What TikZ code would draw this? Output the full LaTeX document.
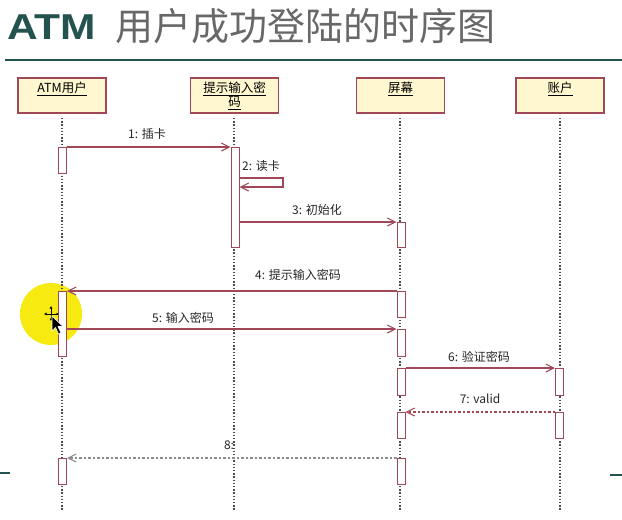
\documentclass[tikz,border=0pt]{standalone}
\usepackage{fontspec}
\usepackage{graphicx}
\setmainfont{Liberation Sans}
\newfontfamily\cjk{Noto Sans CJK SC}
\usetikzlibrary{arrows.meta}
\definecolor{msg}{HTML}{A04858}
\definecolor{boxfill}{HTML}{FFF7CF}
\definecolor{titleteal}{HTML}{24524E}
\definecolor{titlegray}{HTML}{686868}
\definecolor{hilite}{HTML}{F7EA10}
\begin{document}
\begin{tikzpicture}[x=1pt,y=-1pt,
  lbox/.style={draw=msg, fill=boxfill, line width=1.2pt, minimum width=88pt, minimum height=35pt, inner sep=0pt},
  lbl/.style={font=\cjk\fontsize{12.5}{14}\selectfont, align=center, inner sep=0pt},
  life/.style={draw=black!70, line width=1.5pt, dash pattern=on 1.4pt off 1.8pt},
  act/.style={draw=msg, fill=white, line width=1pt, minimum width=8pt, inner sep=0pt, anchor=north},
  call/.style={draw=msg, line width=1.1pt, -{Straight Barb[length=8pt,width=8pt]}},
  ret/.style={call, dash pattern=on 2.5pt off 2pt},
  mlbl/.style={font=\cjk\fontsize{12}{14}\selectfont, inner sep=0pt, text=black!85}
]
\useasboundingbox (0,0) rectangle (622,520);
\fill[white] (0,0) rectangle (622,520);

% title
\node[anchor=base west, inner sep=0pt, text=titleteal, font=\bfseries\fontsize{36}{40}\selectfont] (t1) at (7,39) {\scalebox{1.18}[1]{ATM}};
\node[anchor=base west, inner sep=0pt, text=titlegray, font=\cjk\fontsize{38}{40}\selectfont] (t2) at (115,40) {用户成功登陆的时序图};
\coordinate (hl1) at (5,60);
\coordinate (hl2) at (622,60);
\draw[titleteal, line width=2pt] (hl1) -- (hl2);
\coordinate (el1) at (0,473); \coordinate (el2) at (10,473);
\draw[titleteal, line width=2pt] (el1) -- (el2);
\coordinate (er1) at (610,475); \coordinate (er2) at (622,475);
\draw[titleteal, line width=2pt] (er1) -- (er2);

% cursor highlight
\fill[hilite] (51,314) circle (31);

% lifeline heads
\node[lbox] (u) at (62,95.5) {};
\node[lbox] (p) at (234.5,95.5) {};
\node[lbox] (s) at (400.5,95.5) {};
\node[lbox] (a) at (560,95.5) {};
\node[lbl] (ul) at (62,89) {\underline{ATM用户}};
\node[lbl] (pl) at (234.5,96) {\underline{提示输入密}\\\underline{码}};
\node[lbl] (sl) at (400.5,89) {\underline{屏幕}};
\node[lbl] (al) at (560,89) {\underline{账户}};

% lifelines
\coordinate (ue) at (62,510);
\coordinate (pe) at (234,510);
\coordinate (se) at (400,510);
\coordinate (ae) at (560,510);
\draw[life] (u.south |- 0,118) -- (ue);
\draw[life] (234,118) -- (pe);
\draw[life] (400,118) -- (se);
\draw[life] (560,118) -- (ae);

% activations
\node[act, minimum height=26pt] (u1) at (62.5,147) {};
\node[act, minimum height=100pt] (p1) at (235,147) {};
\node[act, minimum height=25pt] (s1) at (401,222) {};
\node[act, minimum height=65pt] (u2) at (62.5,291) {};
\node[act, minimum height=26pt] (s2) at (401,291) {};
\node[act, minimum height=27pt] (s3) at (401,329) {};
\node[act, minimum height=27pt] (s4) at (401,368) {};
\node[act, minimum height=27pt] (a1) at (559.5,368) {};
\node[act, minimum height=26pt] (s5) at (401,412) {};
\node[act, minimum height=26pt] (a2) at (559.5,412) {};
\node[act, minimum height=26pt] (u3) at (62.5,458) {};
\node[act, minimum height=26pt] (s6) at (401,458) {};

% messages
\draw[call] (u1.north east) -- (p1.north west);
\node[mlbl] (m1) at (147,134) {1: 插卡};

\coordinate (r2a) at (283,178);
\coordinate (r2b) at (283,187);
\draw[call] (p1.east |- r2a) -- (r2a) -- (r2b) -- (p1.east |- r2b);
\node[mlbl] (m2) at (261,166) {2: 读卡};

\draw[call] (p1.east |- s1.north) -- (s1.north west);
\node[mlbl] (m3) at (317,210) {3: 初始化};

\draw[call] (s2.north west) -- (u2.north east);
\node[mlbl] (m4) at (298,275) {4: 提示输入密码};

\draw[call] (u2.east |- s3.north) -- (s3.north west);
\node[mlbl] (m5) at (183,318) {5: 输入密码};

\draw[call] (s4.north east) -- (a1.north west);
\node[mlbl] (m6) at (479,357) {6: 验证密码};

\draw[ret] (a2.north west) -- (s5.north east);
\node[mlbl] (m7) at (480,399) {7: valid};

\draw[ret, draw=black!45] (s6.north west) -- (u3.north east);
\node[mlbl] (m8) at (229,445) {8:};

% cursor
\draw[black, line width=0.8pt, {Latex[length=2.5pt,width=3pt]}-{Latex[length=2.5pt,width=3pt]}] (44,314) -- (59,314);
\draw[black, line width=0.8pt, {Latex[length=2.5pt,width=3pt]}-{Latex[length=2.5pt,width=3pt]}] (51,306) -- (51,321);
\filldraw[fill=black, draw=white, line width=0.6pt] (52,316) -- (52,331) -- (55.5,327.5) -- (58.5,334) -- (61,333) -- (58,326.5) -- (63,326.5) -- cycle;
\end{tikzpicture}
\end{document}
